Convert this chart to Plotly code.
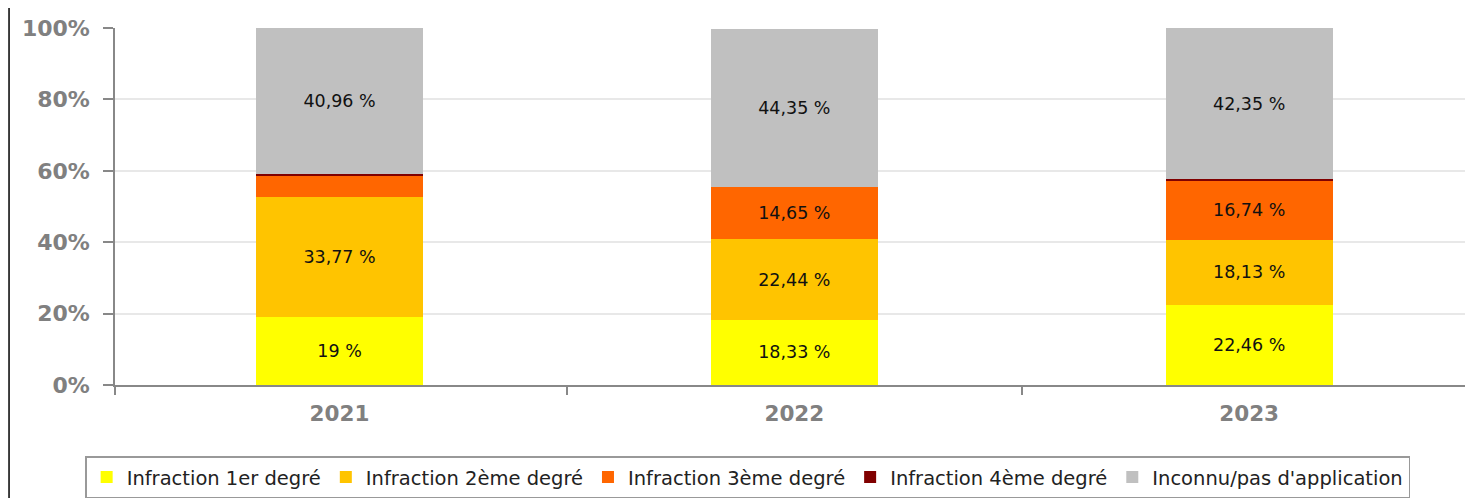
import plotly.graph_objects as go

years = ["2021", "2022", "2023"]
series_names = [
    "Infraction 1er degré",
    "Infraction 2ème degré",
    "Infraction 3ème degré",
    "Infraction 4ème degré",
    "Inconnu/pas d'application",
]
deg1 = [19.0, 18.33, 22.46]
deg2 = [33.77, 22.44, 18.13]
deg3 = [5.87, 14.65, 16.74]
deg4 = [0.40, 0.0, 0.32]
unknown = [40.96, 44.35, 42.35]
colors = ["#FFFF00", "#FFC400", "#FF6600", "#800000", "#C0C0C0"]
y_ticks = [0, 20, 40, 60, 80, 100]

def fmt(v, min_show=8):
    if v < min_show:
        return ""
    s = ("%.2f" % v).rstrip("0").rstrip(".")
    return s.replace(".", ",") + " %"

xs = list(range(len(years)))
fig = go.Figure()
for name, vals, col in zip(series_names, [deg1, deg2, deg3, deg4, unknown], colors):
    fig.add_trace(go.Bar(
        x=xs, y=vals, name=name,
        marker=dict(color=col, line=dict(width=0)),
        width=0.367,
        text=[fmt(v) for v in vals],
        textposition="inside",
        insidetextanchor="middle",
        textangle=0,
        textfont=dict(family="DejaVu Sans", size=17.5, color="#111111"),
        hoverinfo="skip",
    ))

fig.update_layout(
    barmode="stack",
    width=1473, height=498,
    margin=dict(l=107, r=4, t=20, b=121),
    paper_bgcolor="white", plot_bgcolor="white",
    font=dict(family="DejaVu Sans", size=13, color="#333333"),
    showlegend=True,
    legend=dict(
        orientation="h", x=0.4645, xanchor="center", y=-0.2, yanchor="top",
        bgcolor="white", bordercolor="#999999", borderwidth=1.5,
        font=dict(family="DejaVu Sans", size=19.5, color="#222222"),
        traceorder="normal", itemwidth=30,
    ),
    uniformtext=dict(minsize=17, mode="show"),
)
fig.update_xaxes(
    range=[-0.4937, 2.501],
    tickvals=xs, ticktext=years, ticks="",
    tickfont=dict(family="DejaVu Sans", size=21.5, color="#808080", weight="bold"),
    ticklabelstandoff=8,
    showline=True, linecolor="#888888", linewidth=1.5,
    showgrid=False, zeroline=False,
    minor=dict(tickvals=[-0.4937, 0.5, 1.5], ticks="outside", ticklen=8,
               tickcolor="#888888", tickwidth=1.5, showgrid=False),
)
fig.update_yaxes(
    range=[0, 100],
    tickvals=y_ticks, ticktext=[f"{v}%" for v in y_ticks],
    tickfont=dict(family="DejaVu Sans", size=22, color="#808080", weight="bold"),
    ticks="outside", ticklen=10, tickcolor="#888888", tickwidth=1.5,
    ticklabelstandoff=9,
    showline=True, linecolor="#888888", linewidth=1.5,
    showgrid=True, gridcolor="#E8E8E8", gridwidth=1.5,
    zeroline=False,
)
fig.add_shape(type="line", xref="paper", yref="paper",
              x0=-0.0778, x1=-0.0778, y0=-0.35, y1=1.08,
              line=dict(color="black", width=1.5))

fig.write_html("out.html")
